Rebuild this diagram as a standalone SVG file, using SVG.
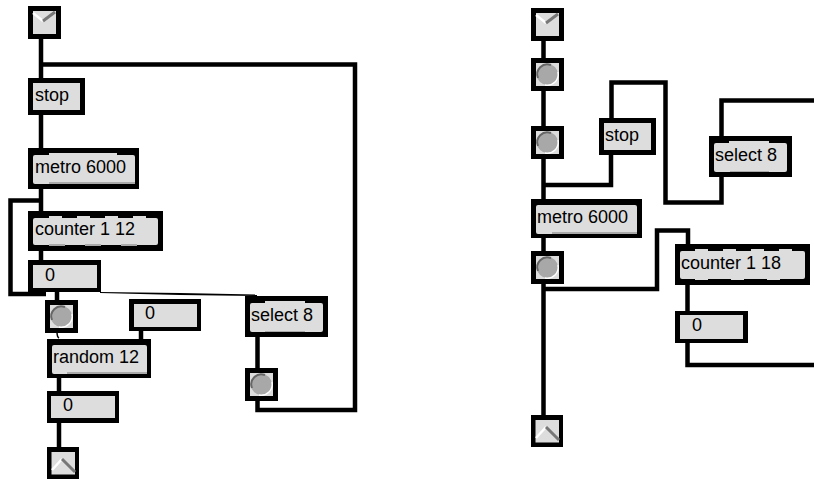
<svg xmlns="http://www.w3.org/2000/svg" width="814" height="480" viewBox="0 0 814 480">
<style>
.o{fill:#000}
.i{fill:#ddd}
.s{fill:#aaa}
.b{fill:#a8a8a8}
.w{fill:none;stroke:#000;stroke-width:4.5;stroke-linejoin:miter}
.t{font-family:"Liberation Sans",Arial,sans-serif;font-size:18px;fill:#000}
.up{fill:none;stroke:#fff;stroke-width:2.5}
.dn{fill:none;stroke:#777;stroke-width:3}
.d{fill:none;stroke:#666;stroke-width:2}
.l{fill:none;stroke:#fff;stroke-width:1.5}
</style>
<defs>
<g id="bang"><rect class="o" x="0" y="0" width="33" height="33"/><rect class="i" x="5" y="5" width="23" height="23"/><circle class="b" cx="16.500" cy="16.500" r="10.500"/><path class="d" d="M7 20A10 10 0 0 1 20 7"/><path class="l" d="M27 14A11 11 0 0 1 14 27"/></g>
<g id="inl"><rect class="o" x="0" y="0" width="33" height="33"/><rect class="i" x="5" y="5" width="23" height="23"/><path class="up" d="M5 7L15 15"/><path class="dn" d="M15 15L27 6"/></g>
<g id="outl"><rect class="o" x="0" y="0" width="32" height="32"/><rect class="i" x="4.500" y="5" width="23.500" height="22.500"/><path class="up" d="M5 23L15 12"/><path class="dn" d="M15 12L28 25"/></g>
</defs>

<g id="connectors">
<path class="w" d="M41 38V80M41 64.500H355V410H257.500V400"/>
<path class="w" d="M41 114V150"/>
<path class="w" d="M41 188V213M41 200.500H10.500V294H46"/>
<path class="w" d="M41 249V262"/>
<path class="w" d="M57 292V302"/>
<path d="M57 332Q57 337 59 338" fill="none" stroke="#000" stroke-width="1.500"/>
<path class="w" d="M141 330V340"/>
<path class="w" d="M59 377V393"/>
<path class="w" d="M59 422V449"/>
<path d="M100 292L180 293L257 294.500L257 296L180 295L100 293Z" fill="#000"/>
<path class="w" d="M257.500 336V370"/>
<path class="w" d="M543.500 40V60M543.500 90V128M543.500 158V201M543.500 185H611V155"/>
<path class="w" d="M611.500 120V82.500H665.500V202.500H721.500V176M721.500 138V100.500H814"/>
<path class="w" d="M543.500 236V253M543.500 282V417M543.500 289H657V230.500H688V246"/>
<path class="w" d="M687.500 284V313M687.500 342V365H814"/>
</g>

<g id="inlet1"><use href="#inl" x="28" y="6"/></g>
<g id="stop1"><rect class="o" x="28" y="78" width="57" height="37"/><rect class="i" x="33" y="83" width="47" height="27"/><text class="t" x="35" y="101">stop</text></g>
<g id="metro1"><rect class="o" x="28" y="148" width="111" height="41"/><rect class="i" x="33" y="155" width="102" height="29" rx="2"/><rect class="i" x="49" y="153" width="68" height="2"/><rect class="s" x="49" y="182" width="86" height="2"/><text class="t" x="35" y="173">metro 6000</text></g>
<g id="counter1"><rect class="o" x="28" y="211" width="135" height="40"/><rect class="i" x="33" y="218" width="125" height="27" rx="2"/><rect class="i" x="49" y="216" width="13" height="2"/><rect class="i" x="77" y="216" width="13" height="2"/><rect class="i" x="105" y="216" width="13" height="2"/><rect class="i" x="133" y="216" width="13" height="2"/><path class="s" d="M49 244H65V246H49ZM85 244H101V246H85ZM121 244H137V246H121Z"/><text class="t" x="35" y="235">counter 1 12</text></g>
<g id="num1"><rect class="o" x="28" y="260" width="73" height="32"/><rect class="i" x="33" y="265" width="64" height="23"/><text class="t" x="45" y="281">0</text></g>
<g id="bang1"><use href="#bang" x="45" y="300"/></g>
<g id="num2"><rect class="o" x="129" y="299" width="72" height="32"/><rect class="i" x="134" y="304" width="63" height="23"/><text class="t" x="145" y="319">0</text></g>
<g id="random"><rect class="o" x="47" y="339" width="104" height="39"/><rect class="i" x="52" y="345" width="95" height="29" rx="2"/><rect class="s" x="67" y="372" width="80" height="2"/><text class="t" x="53" y="363">random 12</text></g>
<g id="num3"><rect class="o" x="47" y="391" width="72" height="32"/><rect class="i" x="51" y="396" width="64" height="22"/><text class="t" x="63" y="411">0</text></g>
<g id="outlet1"><use href="#outl" x="47" y="447"/></g>
<g id="select1"><rect class="o" x="245" y="296" width="83" height="41"/><rect class="i" x="250" y="303" width="73" height="29" rx="2"/><rect class="i" x="265" y="301" width="40" height="2"/><rect class="s" x="265" y="331" width="40" height="1"/><text class="t" x="251" y="321">select 8</text></g>
<g id="bang2"><use href="#bang" x="245" y="368"/></g>

<g id="inlet2"><use href="#inl" x="531" y="8"/></g>
<g id="bang3"><use href="#bang" x="531" y="58"/></g>
<g id="bang4"><use href="#bang" x="531" y="126"/></g>
<g id="stop2"><rect class="o" x="599" y="118" width="57" height="37"/><rect class="i" x="604" y="123" width="47" height="27"/><text class="t" x="605" y="141">stop</text></g>
<g id="select2"><rect class="o" x="709" y="136" width="83" height="41"/><rect class="i" x="714" y="143" width="73" height="29" rx="2"/><rect class="i" x="729" y="141" width="40" height="2"/><rect class="s" x="730" y="171" width="39" height="1"/><text class="t" x="715" y="161">select 8</text></g>
<g id="metro2"><rect class="o" x="531" y="199" width="111" height="39"/><rect class="i" x="536" y="205" width="101" height="29" rx="2"/><rect class="s" x="552" y="232" width="85" height="2"/><text class="t" x="537" y="223">metro 6000</text></g>
<g id="bang5"><use href="#bang" x="531" y="251"/></g>
<g id="outlet2"><use href="#outl" x="531" y="415"/></g>
<g id="counter2"><rect class="o" x="675" y="244" width="135" height="41"/><rect class="i" x="680" y="251" width="125" height="28" rx="2"/><rect class="i" x="695" y="249" width="13" height="2"/><rect class="i" x="723" y="249" width="13" height="2"/><rect class="i" x="751" y="249" width="13" height="2"/><rect class="i" x="779" y="249" width="13" height="2"/><rect class="i" x="695" y="279" width="13" height="1"/><rect class="i" x="731" y="279" width="13" height="1"/><rect class="i" x="767" y="279" width="13" height="1"/><text class="t" x="681" y="269">counter 1 18</text></g>
<g id="num4"><rect class="o" x="675" y="311" width="73" height="32"/><rect class="i" x="680" y="315" width="63" height="24"/><text class="t" x="692" y="331">0</text></g>
</svg>
